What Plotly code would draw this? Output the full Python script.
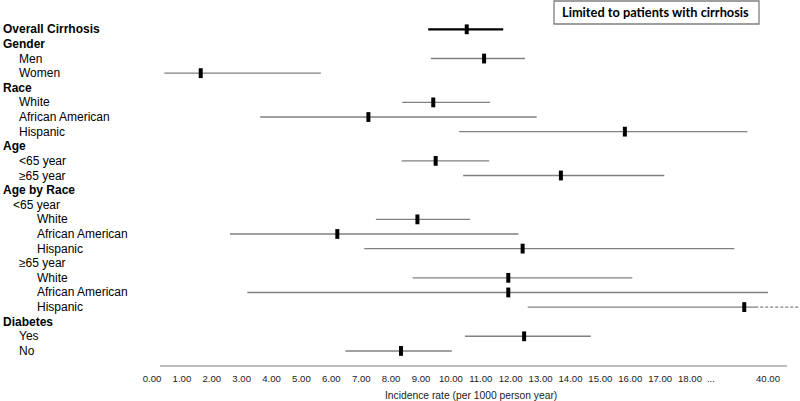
import plotly.graph_objects as go

# ---------------- data ----------------
labels = ["Overall Cirrhosis", "Gender", "Men", "Women", "Race", "White",
          "African American", "Hispanic", "Age", "<65 year", "≥65 year",
          "Age by Race", "<65 year", "White", "African American", "Hispanic",
          "≥65 year", "White", "African American", "Hispanic",
          "Diabetes", "Yes", "No"]
levels = [0, 0, 1, 1, 0, 1, 1, 1, 0, 1, 1, 0, 3, 2, 2, 2, 1, 2, 2, 2, 0, 1, 1]
rate = [10.53, None, 11.11, 1.63, None, 9.41, 7.24, 15.82, None, 9.49, 13.68,
        None, None, 8.88, 6.20, 12.40, None, 11.92, 11.92, 33.3, None, 12.45, 8.33]
ci_low = [9.24, None, 9.33, 0.41, None, 8.37, 3.62, 10.27, None, 8.35, 10.41,
          None, None, 7.49, 2.61, 7.10, None, 8.72, 3.19, 12.57, None, 10.47, 6.47]
ci_high = [11.75, None, 12.48, 5.65, None, 11.31, 12.87, 34.2, None, 11.28, 17.14,
           None, None, 10.64, 12.26, 30.5, None, 16.07, 40.0, 37.3, None, 14.68, 10.03]
# upper CI continues beyond the chart (drawn dotted)
ci_open = [False, False, False, False, False, False, False, False, False, False, False,
           False, False, False, False, False, False, False, False, True, False, False, False]

tick_text = ["0.00", "1.00", "2.00", "3.00", "4.00", "5.00", "6.00", "7.00", "8.00",
             "9.00", "10.00", "11.00", "12.00", "13.00", "14.00", "15.00", "16.00",
             "17.00", "18.00", "...", "40.00"]
tick_values = list(range(0, 19)) + [None, 40]

# ---------------- broken-axis scale ----------------
BREAK = 18.0          # axis is linear up to 18, compressed between 18 and 40
COMPRESS = 0.1186     # axis units per incidence unit beyond the break
DOTS_POS = 18.7       # position of the "..." break marker


def fwd(v):
    return v if v <= BREAK else BREAK + (v - BREAK) * COMPRESS


tickvals = [fwd(v) if v is not None else DOTS_POS for v in tick_values]

W, H = 800, 401
PX0, PXU = 152.0, 29.89          # pixel of axis value 0, pixels per unit
ROW0, ROWH, AXIS_Y = 29.3, 14.62, 366.0
x_range = [-PX0 / PXU, (W - PX0) / PXU]
y_range = [(AXIS_Y - ROW0) / ROWH, -ROW0 / ROWH]

fig = go.Figure()

gx, gy, bx, by, dx, dy = [], [], [], [], [], []
for i, (lo, hi) in enumerate(zip(ci_low, ci_high)):
    if lo is None:
        continue
    if i == 0:
        bx += [fwd(lo), fwd(hi), None]
        by += [i, i, None]
    else:
        gx += [fwd(lo), fwd(hi), None]
        gy += [i, i, None]
    if ci_open[i]:
        dx += [fwd(hi) + 0.06, x_range[1], None]
        dy += [i, i, None]

fig.add_trace(go.Scatter(x=gx, y=gy, mode="lines",
                         line=dict(color="#808080", width=1.4), hoverinfo="skip"))
fig.add_trace(go.Scatter(x=bx, y=by, mode="lines",
                         line=dict(color="#000000", width=2.2), hoverinfo="skip"))
fig.add_trace(go.Scatter(x=dx, y=dy, mode="lines",
                         line=dict(color="#808080", width=1.2, dash="3px,2px"), hoverinfo="skip"))

px_, py_ = [], []
for i, r in enumerate(rate):
    if r is not None:
        px_.append(fwd(r))
        py_.append(i)
fig.add_trace(go.Scatter(x=px_, y=py_, mode="markers", cliponaxis=False,
                         marker=dict(symbol="line-ns", size=7,
                                     line=dict(width=4, color="#000000")),
                         hoverinfo="skip"))

# ---------------- layout ----------------
indent = {0: 1, 1: 17, 2: 35, 3: 11}
annotations = []
for i, (lab, lv) in enumerate(zip(labels, levels)):
    txt = f"<b>{lab}</b>" if lv == 0 else lab
    annotations.append(dict(text=txt, x=indent[lv] / W, xref="paper", y=i, yref="y",
                            xanchor="left", yanchor="middle", showarrow=False,
                            font=dict(family="Liberation Sans, Arial", size=12, color="#000")))

annotations.append(dict(text="Incidence rate (per 1000 person year)", x=471 / W, xref="paper",
                        y=-(395 - AXIS_Y) / AXIS_Y, yref="paper", xanchor="center",
                        yanchor="middle", showarrow=False,
                        font=dict(family="Liberation Sans, Arial", size=10.3, color="#222")))
annotations.append(dict(text="<b>Limited to patients with cirrhosis</b>", x=655 / W, xref="paper",
                        y=(AXIS_Y - 12.5) / AXIS_Y, yref="paper", xanchor="center",
                        yanchor="middle", showarrow=False,
                        font=dict(family="Lato, Carlito, sans-serif", size=12.8, color="#000")))

shapes = [
    dict(type="line", xref="x", yref="paper", x0=(160 - PX0) / PXU, x1=(787 - PX0) / PXU,
         y0=0, y1=0, line=dict(color="#7f7f7f", width=1.2)),
    dict(type="rect", xref="paper", yref="paper", x0=554 / W, x1=759 / W,
         y0=(AXIS_Y - 24) / AXIS_Y, y1=(AXIS_Y - 1) / AXIS_Y,
         line=dict(color="#7f7f7f", width=1.3), fillcolor="rgba(0,0,0,0)"),
]

fig.update_layout(
    width=W, height=H, showlegend=False,
    margin=dict(l=0, r=0, t=0, b=H - AXIS_Y),
    paper_bgcolor="white", plot_bgcolor="white",
    xaxis=dict(range=x_range, showgrid=False, zeroline=False, showline=False,
               tickvals=tickvals, ticktext=tick_text, ticks="outside", ticklen=3,
               tickcolor="rgba(0,0,0,0)",
               tickfont=dict(family="Liberation Sans, Arial", size=9.6, color="#1a1a1a")),
    yaxis=dict(range=y_range, showgrid=False, zeroline=False, showline=False,
               showticklabels=False),
    annotations=annotations, shapes=shapes,
)

fig.write_html("out.html", config={"displayModeBar": False},
               post_script="document.body.style.margin='0';document.body.style.overflow='hidden';")
